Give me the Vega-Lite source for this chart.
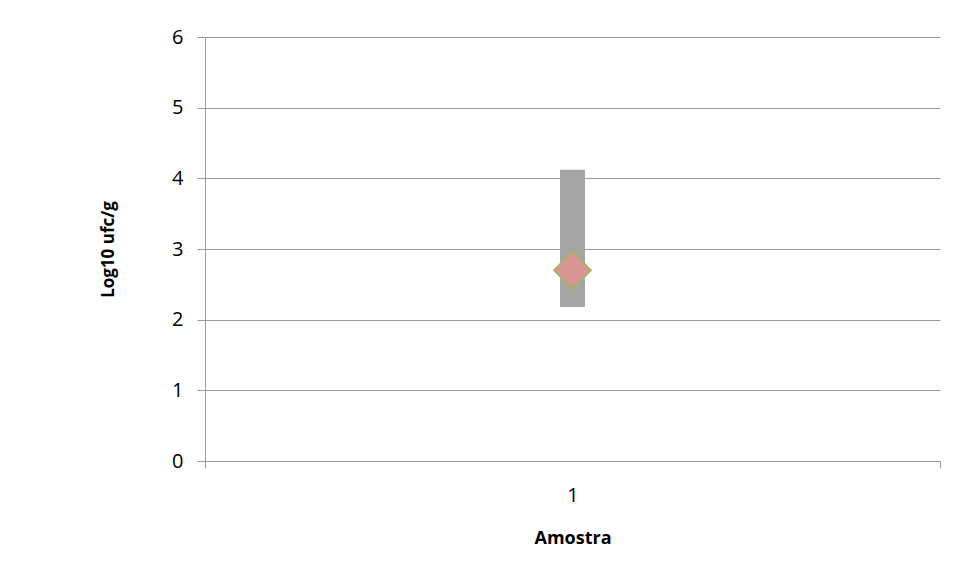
{
  "$schema": "https://vega.github.io/schema/vega-lite/v6.json",
  "width": 735,
  "height": 424,
  "autosize": "none",
  "padding": {"left": 205, "top": 37, "right": 17, "bottom": 115},
  "background": "white",
  "config": {
    "view": {"stroke": null},
    "font": "Open Sans"
  },
  "data": {"values": [{"Amostra": "1", "min": 2.18, "max": 4.12, "value": 2.7}]},
  "encoding": {
    "x": {
      "field": "Amostra",
      "type": "nominal",
      "scale": {"paddingInner": 0, "paddingOuter": 0},
      "axis": {
        "title": "Amostra",
        "labelAngle": 0,
        "labelFontSize": 20,
        "labelColor": "#000000",
        "labelPadding": 17,
        "tickBand": "extent",
        "tickSize": 7,
        "tickColor": "#9a9a9a",
        "domainColor": "#9a9a9a",
        "titleFontSize": 18,
        "titleFontWeight": "bold",
        "titleColor": "#000000",
        "titlePadding": 24,
        "grid": false
      }
    }
  },
  "layer": [
    {
      "mark": {"type": "bar", "size": 25, "color": "#a5a5a5"},
      "encoding": {
        "y": {
          "field": "min",
          "type": "quantitative",
          "scale": {"domain": [0, 6], "nice": false},
          "axis": {
            "title": "Log10 ufc/g",
            "values": [0, 1, 2, 3, 4, 5, 6],
            "format": "d",
            "labelFontSize": 20,
            "labelColor": "#000000",
            "labelPadding": 14,
            "tickSize": 8,
            "tickColor": "#9a9a9a",
            "domainColor": "#9a9a9a",
            "gridColor": "#9a9a9a",
            "gridOpacity": 1,
            "titleFontSize": 17,
            "titleFontWeight": "bold",
            "titleColor": "#000000",
            "titlePadding": 54
          }
        },
        "y2": {"field": "max"}
      }
    },
    {
      "mark": {"type": "point", "shape": "diamond", "size": 1400, "filled": true, "fill": "#d99594", "stroke": "#9bbb59", "strokeWidth": 1.5, "opacity": 1},
      "encoding": {
        "y": {"field": "value", "type": "quantitative"}
      }
    }
  ]
}
